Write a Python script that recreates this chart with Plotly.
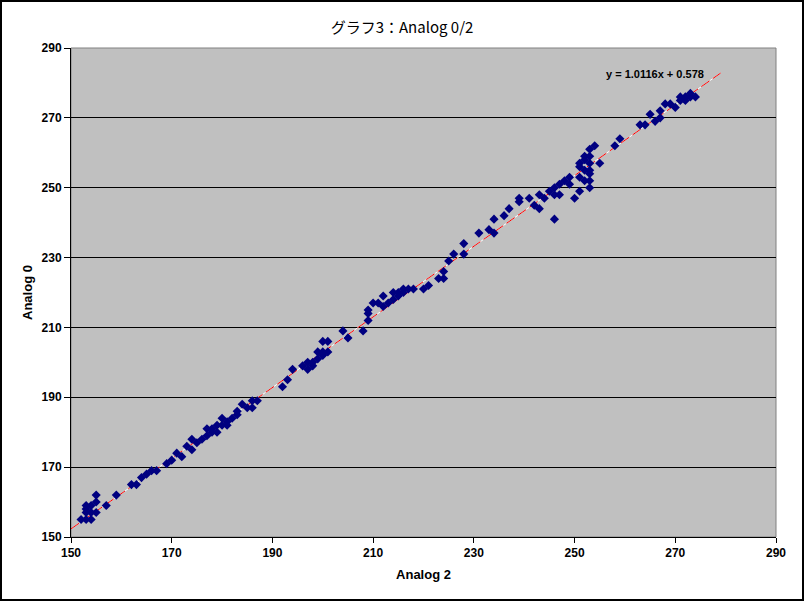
import plotly.graph_objects as go

# Analog 2 (x) vs Analog 0 (y) readings
analog2 = [
    152, 153, 154, 153, 154, 153, 155, 153, 154, 155, 155, 157, 159,
    162, 163, 164, 165, 166, 167, 169, 170, 171, 172, 173, 174, 175,
    174, 176, 177, 177, 178, 178, 179, 179, 180, 180, 181, 181, 182,
    183, 183, 184, 185, 186, 186, 187,
    192, 193, 194, 196, 197, 197, 198, 198, 199, 199, 200, 200, 201,
    200, 201, 204, 205, 208, 209, 209, 209, 210, 211,
    212, 212, 213, 214, 214, 215, 215, 216, 216, 217, 218, 220, 221,
    223, 224, 224, 225, 226, 228, 228, 231, 233, 234, 234,
    236, 237, 239, 239, 241, 242, 243, 243, 244, 245, 246, 246, 246,
    247, 247, 248, 249, 249, 250, 251, 251, 251, 251, 252, 252, 252,
    252, 253, 253, 253, 253, 253, 253, 253, 254, 255,
    258, 259, 263, 264, 265, 266, 267, 267, 268, 269, 270, 271, 272,
    272, 273, 273, 274, 271,
]
analog0 = [
    155, 155, 155, 157, 157, 158, 157, 159, 159, 160, 162, 159, 162,
    165, 165, 167, 168, 169, 169, 171, 172, 174, 173, 176, 175, 177,
    178, 178, 181, 179, 180, 181, 180, 182, 184, 182, 182, 183, 184,
    185, 186, 188, 187, 187, 189, 189,
    193, 195, 198, 199, 200, 198, 199, 200, 201, 203, 202, 206, 206,
    203, 203, 209, 207, 209, 212, 214, 215, 217, 217,
    219, 216, 217, 220, 218, 220, 219, 221, 220, 221, 221, 221, 222,
    224, 224, 226, 229, 231, 231, 234, 237, 238, 237, 241,
    242, 244, 246, 247, 247, 245, 244, 248, 247, 249, 241, 248, 250,
    248, 251, 252, 253, 251, 247, 249, 253, 256, 257, 255, 258, 259,
    252, 261, 259, 257, 255, 254, 252, 250, 262, 257,
    262, 264, 268, 268, 271, 269, 270, 272, 274, 274, 273, 275, 275,
    276, 277, 276, 276, 276,
]

# linear trendline shown on the chart
slope = 1.0116
intercept = 0.578
trend_x = [150, 279]
trend_y = [slope * v + intercept for v in trend_x]

W, H = 804, 601
left, right, top, bottom = 71, 776, 48, 537

fig = go.Figure()

# trendline: white base with red dashes on top
fig.add_trace(go.Scatter(
    x=trend_x, y=trend_y, mode='lines',
    line=dict(color='white', width=1), hoverinfo='skip', showlegend=False
))
fig.add_trace(go.Scatter(
    x=trend_x, y=trend_y, mode='lines',
    line=dict(color='#FF0000', width=1, dash='10px,4px'), hoverinfo='skip', showlegend=False
))
fig.add_trace(go.Scatter(
    x=analog2, y=analog0, mode='markers',
    marker=dict(symbol='diamond', size=7, color='#000080', line=dict(width=0)),
    showlegend=False
))

tick_font = dict(family='Liberation Sans, Arial', size=12, color='black', weight='bold')
title_font = dict(family='Liberation Sans, Arial', size=13, color='black', weight='bold')

fig.update_layout(
    width=W, height=H,
    margin=dict(l=0, r=0, t=0, b=0, autoexpand=False),
    paper_bgcolor='white',
    plot_bgcolor='#C0C0C0',
    showlegend=False,
    title=dict(
        text='グラフ3：Analog 0/2',
        x=0.5, xanchor='center',
        y=1 - 28 / H, yanchor='middle',
        font=dict(family='Noto Sans CJK JP', size=15, color='black')
    ),
    xaxis=dict(
        domain=[left / W, right / W],
        range=[150, 290], dtick=20, tick0=150,
        showgrid=False, zeroline=False, automargin=False,
        showline=True, linecolor='black', linewidth=1,
        ticks='outside', ticklen=5, tickcolor='black',
        tickfont=tick_font,
        title=dict(text='Analog 2', font=title_font, standoff=10),
    ),
    yaxis=dict(
        domain=[1 - bottom / H, 1 - top / H],
        range=[150, 290], dtick=20, tick0=150,
        showgrid=True, gridcolor='black', gridwidth=1,
        zeroline=False, automargin=False,
        showline=True, linecolor='black', linewidth=1,
        ticks='outside', ticklen=6, tickcolor='black',
        tickfont=tick_font,
        title=dict(text='Analog 0', font=title_font, standoff=6),
    ),
    annotations=[dict(
        x=266, y=282.5, xref='x', yref='y',
        text=f'y = {slope}x + {intercept}',
        showarrow=False,
        font=dict(family='Liberation Sans, Arial', size=11, color='black', weight='bold')
    )],
    shapes=[
        # gray plot-area border (top / right)
        dict(type='rect', xref='paper', yref='paper',
             x0=left / W, x1=right / W, y0=1 - bottom / H, y1=1 - top / H,
             line=dict(color='#808080', width=1), layer='between'),
        # black frame around the whole chart
        dict(type='rect', xref='paper', yref='paper',
             x0=1 / W, x1=1 - 1 / W, y0=1 / H, y1=1 - 1 / H,
             line=dict(color='black', width=2)),
    ],
)

# drop the default page margin so the chart fills the window
fig.write_html("out.html", config={'displayModeBar': False},
               post_script="document.body.style.margin='0';")
